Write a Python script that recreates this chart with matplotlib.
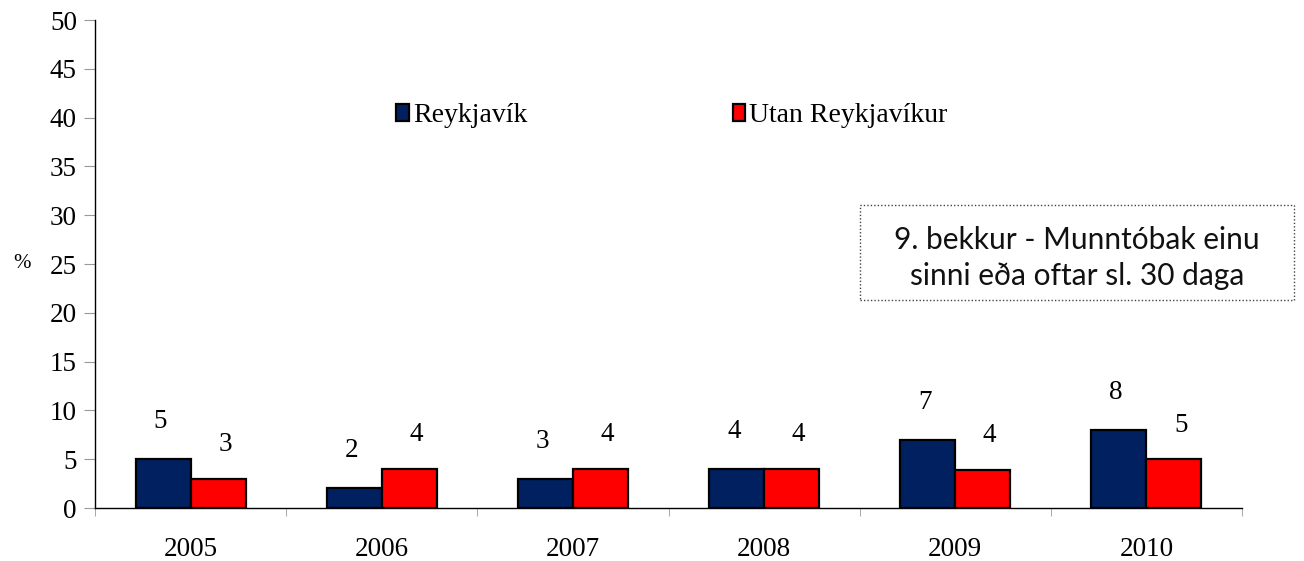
import numpy as np
import matplotlib.pyplot as plt
from matplotlib.patches import Rectangle

# data
years = ["2005", "2006", "2007", "2008", "2009", "2010"]
reykjavik = [5, 2, 3, 4, 7, 8]
utan = [3, 4, 4, 4, 3.9, 5]
series_names = ["Reykjavík", "Utan Reykjavíkur"]
box_text = "9. bekkur - Munntóbak einu\nsinni eða oftar sl. 30 daga"

plt.rcParams.update({
    "font.family": "Liberation Serif",
    "font.size": 19.5,
})

fig = plt.figure(figsize=(13.04, 5.61), dpi=100)
ax = fig.add_axes([95 / 1304, 1 - 508 / 561, (1242 - 95) / 1304, (508 - 20) / 561])

x = np.arange(len(years))
w = 0.288
ax.bar(x - w / 2, reykjavik, w, color="#002060", edgecolor="black", linewidth=1.6,
       label=series_names[0], zorder=3)
ax.bar(x + w / 2, utan, w, color="#FF0000", edgecolor="black", linewidth=1.6,
       label=series_names[1], zorder=3)

# value labels
for xi, v in zip(x, reykjavik):
    ax.annotate(f"{v:.0f}", (xi - w / 2, v), xytext=(-2, 18), textcoords="offset points",
                ha="center", va="bottom")
for xi, v in zip(x, utan):
    ax.annotate(f"{v:.0f}", (xi + w / 2, v), xytext=(5, 15.5), textcoords="offset points",
                ha="center", va="bottom")

ax.set_xlim(-0.5, len(years) - 0.5)
ax.set_ylim(0, 50)
ax.set_yticks(np.arange(0, 51, 5))
ax.set_xticks(x)
ax.set_xticklabels(years)
ax.set_xticks(np.arange(-0.5, len(years), 1), minor=True)
ax.tick_params(axis="x", which="major", length=0, pad=21)
ax.tick_params(axis="x", which="minor", length=6, color="#999999", direction="out")
ax.tick_params(axis="y", length=8, color="#999999", pad=5)

for s in ["top", "right"]:
    ax.spines[s].set_visible(False)
for s in ["left", "bottom"]:
    ax.spines[s].set_linewidth(1.0)
    ax.spines[s].set_color("black")

ax.set_ylabel("%", rotation=0, fontsize=15, labelpad=20, va="center")

ax.legend(loc="center", bbox_to_anchor=(0.503, 0.804), ncol=2, frameon=False,
          handlelength=0.45, handleheight=0.55, handletextpad=0.15,
          columnspacing=7.4, fontsize=20)

# annotation box with dotted border
fig.add_artist(Rectangle((860 / 1304, 1 - 300 / 561), 434 / 1304, 95 / 561,
                         transform=fig.transFigure, fill=False, edgecolor="#444444",
                         linestyle=(0, (1, 1.5)), linewidth=1.0))
fig.text(1077 / 1304, 1 - 258 / 561, box_text, ha="center", va="center",
         fontsize=21.5, family="Lato", color="#111111", linespacing=1.35)

fig.savefig("out.png", dpi=100)
